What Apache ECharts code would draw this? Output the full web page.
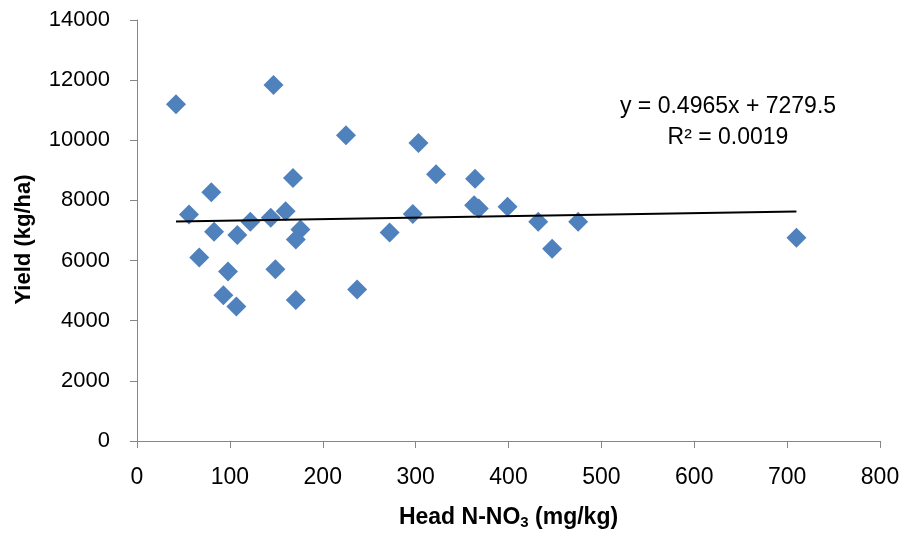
<!DOCTYPE html>
<html>
<head>
<meta charset="utf-8">
<script src="https://cdn.jsdelivr.net/npm/echarts@6/dist/echarts.min.js"></script>
<style>
html,body{margin:0;padding:0;background:#fff;}
#chart{width:905px;height:535px;}
</style>
</head>
<body>
<div id="chart"></div>
<script>
// Head N-NO3 (mg/kg)
const headNO3 = [42, 147, 225, 168, 80, 56, 160, 144, 122, 83, 108, 176, 171, 67, 98, 149, 237, 93, 107, 171,
  272, 297, 303, 322, 364, 363, 368, 399, 432, 475, 447, 710];
// Yield (kg/ha)
const yieldKgHa = [11200, 11840, 10170, 8750, 8270, 7530, 7640, 7420, 7290, 6960, 6850, 7030, 6700, 6100, 5640, 5710, 5040, 4850, 4470, 4690,
  6930, 7550, 9910, 8870, 8720, 7840, 7730, 7790, 7290, 7290, 6390, 6760];
const trendSlope = 0.4965;
const trendIntercept = 7279.5;
const equationText = 'y = 0.4965x + 7279.5';
const r2Text = 'R² = 0.0019';
const xTicks = [0, 800, 100];
const yTicks = [0, 14000, 2000];

const points = headNO3.map((x, i) => [x, yieldKgHa[i]]);
const xMin = Math.min(...headNO3), xMax = Math.max(...headNO3);
const trend = [[xMin, trendSlope * xMin + trendIntercept], [xMax, trendSlope * xMax + trendIntercept]];

const font = '"Liberation Sans", Arial, sans-serif';
const axisColor = '#868686';
const chart = echarts.init(document.getElementById('chart'));
chart.setOption({
  animation: false,
  grid: {left: 137, right: 25, top: 20, bottom: 93},
  xAxis: {
    type: 'value', min: xTicks[0], max: xTicks[1], interval: xTicks[2],
    splitLine: {show: false},
    axisLine: {show: true, lineStyle: {color: axisColor, width: 1}},
    axisTick: {show: true, length: 7, lineStyle: {color: axisColor}},
    axisLabel: {color: '#000', fontFamily: font, fontSize: 23, margin: 25, formatter: v => String(v)},
    name: 'Head N-NO{sub|3} (mg/kg)',
    nameLocation: 'middle', nameGap: 64,
    nameTextStyle: {
      color: '#000', fontFamily: font, fontSize: 23, fontWeight: 'bold',
      rich: {sub: {fontFamily: font, fontSize: 15, fontWeight: 'bold', verticalAlign: 'bottom', padding: [10, 0, 0, 0]}}
    }
  },
  yAxis: {
    type: 'value', min: yTicks[0], max: yTicks[1], interval: yTicks[2],
    splitLine: {show: false},
    axisLine: {show: true, lineStyle: {color: axisColor, width: 1}},
    axisTick: {show: true, length: 7, lineStyle: {color: axisColor}},
    axisLabel: {color: '#000', fontFamily: font, fontSize: 22, margin: 27, formatter: v => String(v)},
    name: 'Yield (kg/ha)',
    nameLocation: 'middle', nameGap: 102, nameRotate: 90,
    nameTextStyle: {color: '#000', fontFamily: font, fontSize: 22, fontWeight: 'bold', padding: [0, 18, 0, 0]}
  },
  series: [
    {
      type: 'scatter', data: points, symbol: 'diamond', symbolSize: 20,
      itemStyle: {color: '#4F81BD', opacity: 1}, z: 3
    },
    {
      type: 'line', data: trend, symbol: 'none', silent: true,
      lineStyle: {color: '#000', width: 2}, z: 4
    }
  ],
  graphic: [
    {type: 'text', x: 728, y: 107, style: {text: equationText, font: '23px ' + font, fill: '#000', textAlign: 'center', textVerticalAlign: 'middle'}},
    {type: 'text', x: 728, y: 138, style: {text: r2Text, font: '23px ' + font, fill: '#000', textAlign: 'center', textVerticalAlign: 'middle'}}
  ]
});
</script>
</body>
</html>
